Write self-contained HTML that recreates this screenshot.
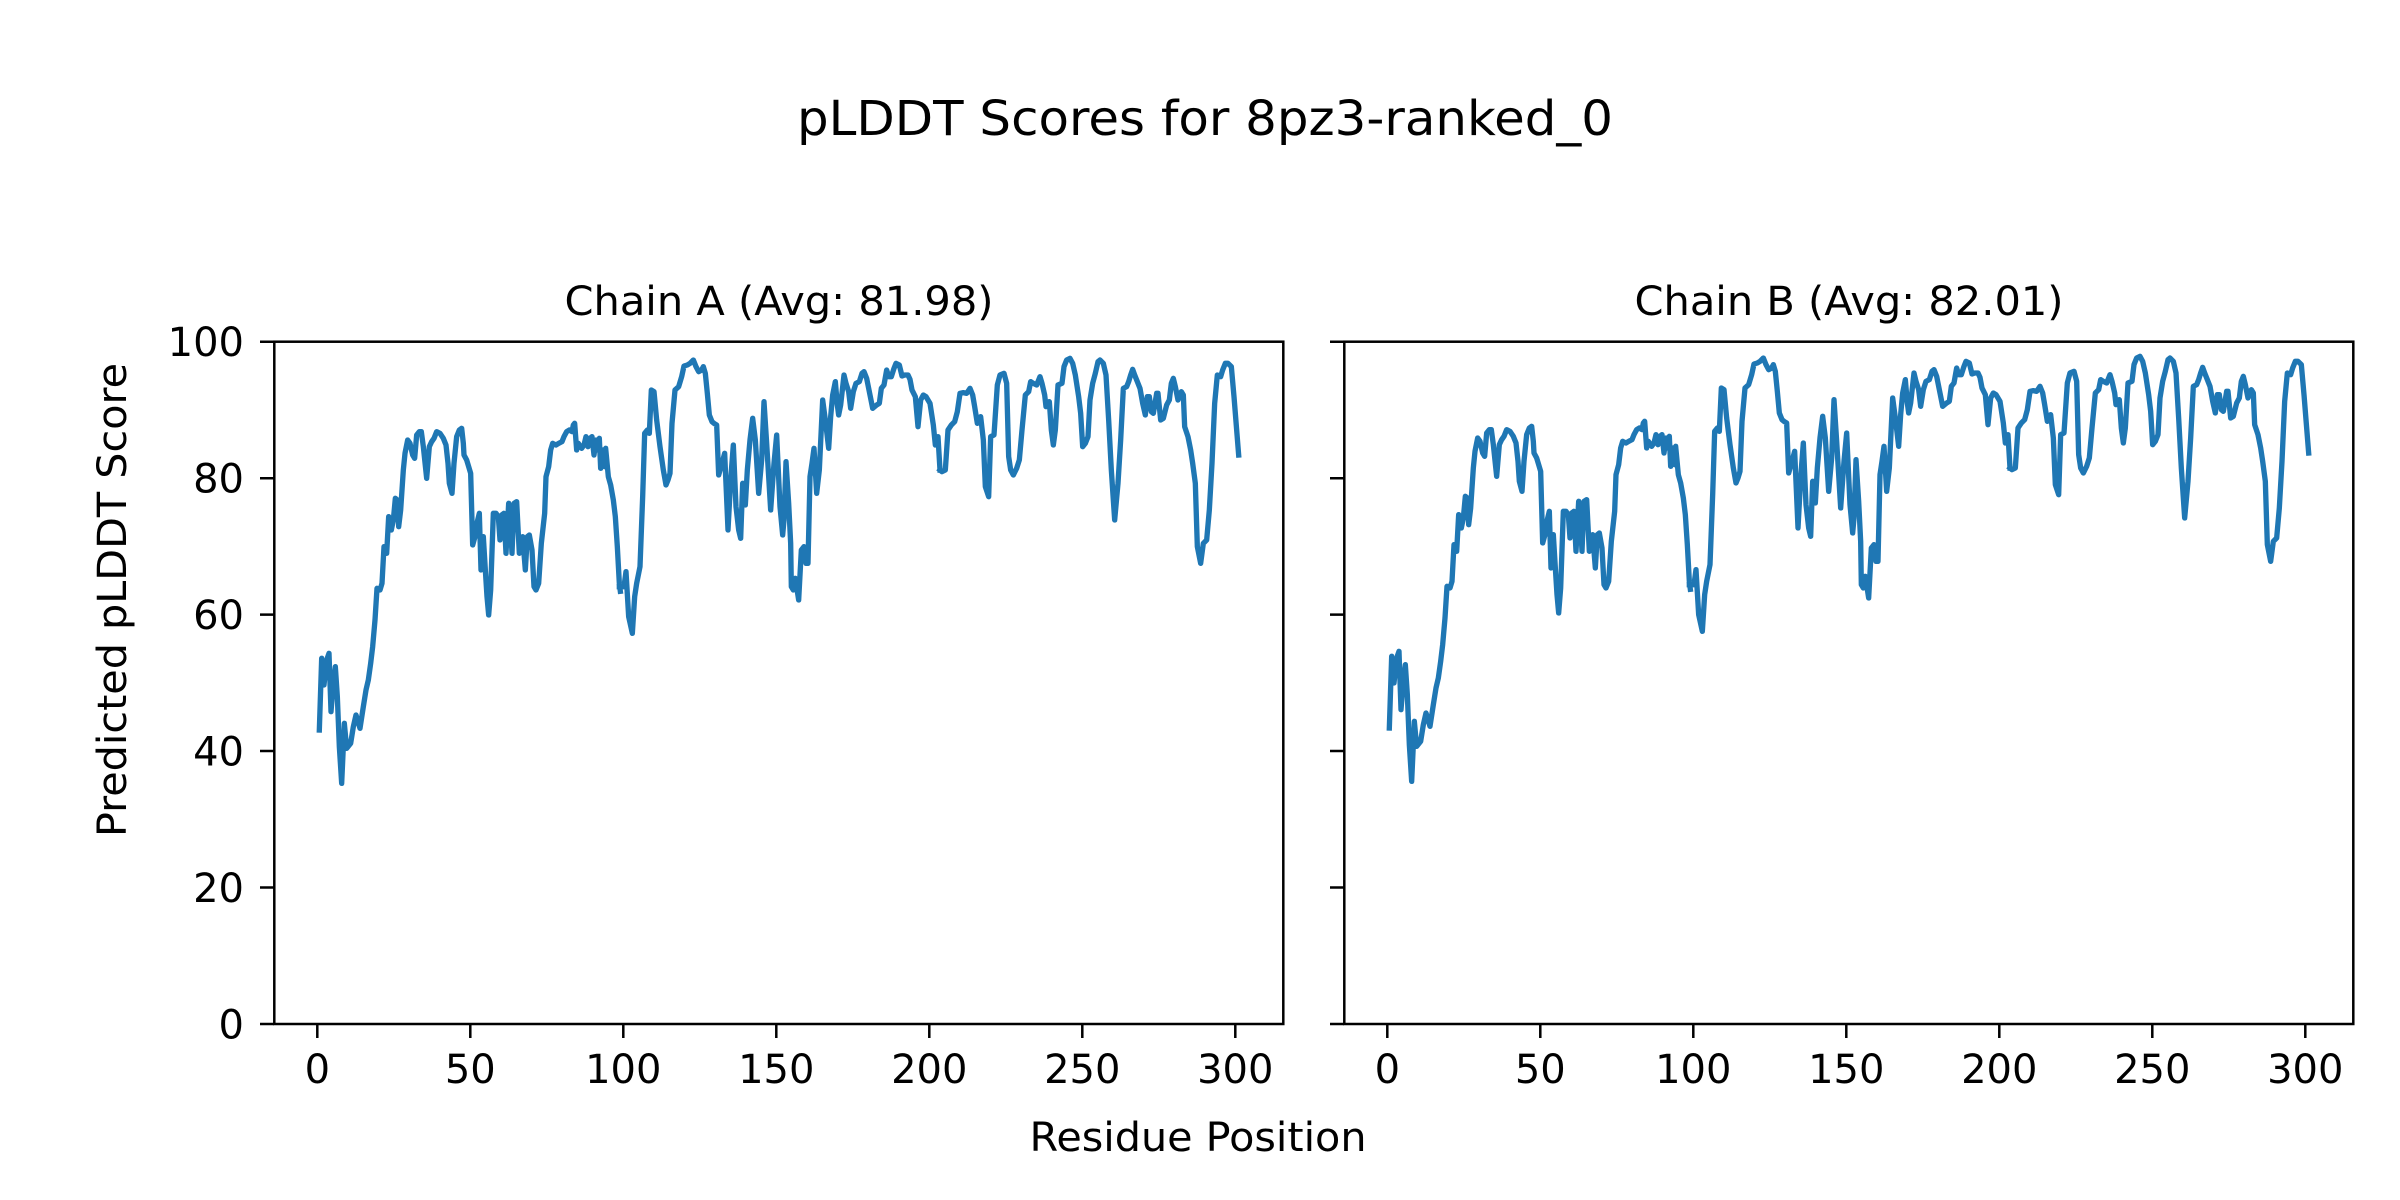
<!DOCTYPE html>
<html><head><meta charset="utf-8"><style>html,body{margin:0;padding:0;background:#fff}svg{display:block}</style></head>
<body>
<svg width="2400" height="1200" viewBox="0 0 2400 1200" xmlns="http://www.w3.org/2000/svg" font-family="DejaVu Sans, Liberation Sans, sans-serif">
<rect width="2400" height="1200" fill="#fff"/>
<defs>
<g id="curve" fill="none" stroke="#1f77b4" stroke-linejoin="round" stroke-linecap="square">
<polyline stroke-width="16" transform="translate(280,330) scale(0.33333)" points="118,1200 125,985 132,1065 140,990 147,970 153,1145 160,1060 166,1010 172,1100 178,1250 185,1360 190,1250 193,1180 200,1255 212,1240 220,1190 228,1155 240,1195 250,1130 258,1080 265,1050 272,1000 278,950 285,870 291,775 300,780 306,760 312,650 320,670 326,560 334,600 340,570 346,505 352,510 356,590 362,540 370,420 375,370 383,330 390,340 398,375 404,385 410,315 418,305 424,305 430,350 440,445 448,350 455,335 462,325 470,305 480,310 490,325 498,345 504,400 508,460 516,490 522,400 530,320 538,300 545,295 550,340 552,375 560,390 566,410 572,430 578,645 585,620 592,575 598,550 603,720 610,620 616,720 621,800 626,855 632,780 640,550 648,550 655,560 660,630 665,555 672,550 678,670 686,520 692,590 696,670 702,520 710,515 718,670 722,640 728,620 736,720 742,620 748,615 756,660 762,770 768,780 776,760 784,640 794,550 798,440 806,410 812,360 818,340 828,345 836,340 846,335 852,320 860,305 868,300 876,305 880,285 884,280 890,360 895,340 905,355 912,345 918,320 924,350 930,325 936,320 942,375 948,330 953,360 958,325 962,415 968,360 974,410 977,355 985,440 992,465 1000,510 1006,560 1012,650 1018,760 1021,784"/>
<polyline stroke-width="16" transform="translate(600,330) scale(0.33333)" points="58,770 66,770 72,770 78,725 86,860 97,910 104,800 110,760 120,710 128,500 134,310 142,300 148,310 154,180 162,185 170,270 180,350 190,420 198,465 204,450 210,430 216,280 225,180 236,170 245,140 252,108 262,105 270,100 280,90 288,110 296,125 305,120 310,110 316,130 322,190 328,255 336,275 342,280 350,285 356,435 366,400 374,370 384,600 392,450 400,345 408,530 416,600 422,625 428,460 436,525 442,420 450,330 458,265 466,330 476,490 485,390 492,215 500,340 512,540 522,400 530,315 540,530 548,615 552,570 558,395 566,520 572,640 574,770 580,780 586,745 596,810 604,660 612,650 618,700 624,700 630,440 636,400 642,355 650,490 658,420 668,210 676,270 686,355 692,260 698,195 706,155 712,225 716,255 722,225 732,135 738,160 746,185 752,235 760,185 768,160 778,155 786,130 792,125 800,145 810,195 818,235 830,225 838,220 844,175 852,165 860,120 866,140 874,140 882,115 888,100 898,105 906,138 914,135 924,135 930,148 936,180 946,200 954,290 962,210 970,195 978,200 990,220 1000,285 1006,345 1014,320 1020,420"/>
<polyline stroke-width="16" transform="translate(920,330) scale(0.33333)" points="60,420 66,425 76,420 84,300 94,285 104,275 112,245 120,190 130,188 140,190 150,175 158,195 164,230 172,280 182,260 190,330 196,470 206,500 212,320 222,315 232,165 240,135 252,130 260,160 266,380 272,420 280,435 290,415 298,390 306,300 316,195 326,185 332,155 340,160 350,165 360,140 366,160 374,195 378,230 388,215 394,300 400,345 406,300 414,165 426,160 432,110 440,90 450,85 458,100 466,135 476,200 482,250 488,350 496,340 504,320 510,210 518,160 526,130 534,95 540,90 550,100 558,135 566,270 574,420 584,570 594,460 602,330 610,175 620,170 626,155 632,135 638,118 644,135 652,155 660,175 668,220 676,255 682,200 688,200 694,245 700,250 710,190 714,190 722,270 730,265 740,225 748,210 754,160 760,145 766,170 774,210 784,185 790,195 794,290 804,320 812,360 818,400 826,460 832,650 842,700 850,640 860,630 868,540 876,400 884,220 892,135 902,140 908,120 916,100 924,100 934,110 942,200 950,300 956,375"/>
</g>
</defs>
<use href="#curve"/>
<use href="#curve" transform="translate(1070,-2)"/>
<g stroke="#000" stroke-width="2.5" fill="none">
<rect x="274.3" y="341.7" width="1009" height="682.3"/>
<rect x="1344.3" y="341.7" width="1009" height="682.3"/>
</g>
<g stroke="#000" stroke-width="2.5">
<path d="M260,1024H274M260,887.5H274M260,751H274M260,614.6H274M260,478.2H274M260,341.7H274"/>
<path d="M1330,1024H1344M1330,887.5H1344M1330,751H1344M1330,614.6H1344M1330,478.2H1344M1330,341.7H1344"/>
<path d="M317.3,1024V1038M470.3,1024V1038M623.3,1024V1038M776.3,1024V1038M929.3,1024V1038M1082.3,1024V1038M1235.3,1024V1038"/>
<path d="M1387.3,1024V1038M1540.3,1024V1038M1693.3,1024V1038M1846.3,1024V1038M1999.3,1024V1038M2152.3,1024V1038M2305.3,1024V1038"/>
</g>
<g font-size="40" fill="#000" text-anchor="end">
<text x="244" y="1038.5">0</text>
<text x="244" y="902">20</text>
<text x="244" y="765.5">40</text>
<text x="244" y="629">60</text>
<text x="244" y="492.5">80</text>
<text x="244" y="356">100</text>
</g>
<g font-size="40" fill="#000" text-anchor="middle">
<text x="317.3" y="1083">0</text><text x="470.3" y="1083">50</text><text x="623.3" y="1083">100</text><text x="776.3" y="1083">150</text><text x="929.3" y="1083">200</text><text x="1082.3" y="1083">250</text><text x="1235.3" y="1083">300</text>
<text x="1387.3" y="1083">0</text><text x="1540.3" y="1083">50</text><text x="1693.3" y="1083">100</text><text x="1846.3" y="1083">150</text><text x="1999.3" y="1083">200</text><text x="2152.3" y="1083">250</text><text x="2305.3" y="1083">300</text>
<text x="1198" y="1151" textLength="337" lengthAdjust="spacingAndGlyphs">Residue Position</text>
<text x="779" y="315" textLength="429" lengthAdjust="spacingAndGlyphs">Chain A (Avg: 81.98)</text>
<text x="1849" y="315" textLength="429" lengthAdjust="spacingAndGlyphs">Chain B (Avg: 82.01)</text>
<text x="126" y="600" transform="rotate(-90 126 600)" textLength="474" lengthAdjust="spacingAndGlyphs">Predicted pLDDT Score</text>
<text x="1205" y="135" font-size="48" textLength="816" lengthAdjust="spacingAndGlyphs">pLDDT Scores for 8pz3-ranked_0</text>
</g>
</svg>
</body></html>
